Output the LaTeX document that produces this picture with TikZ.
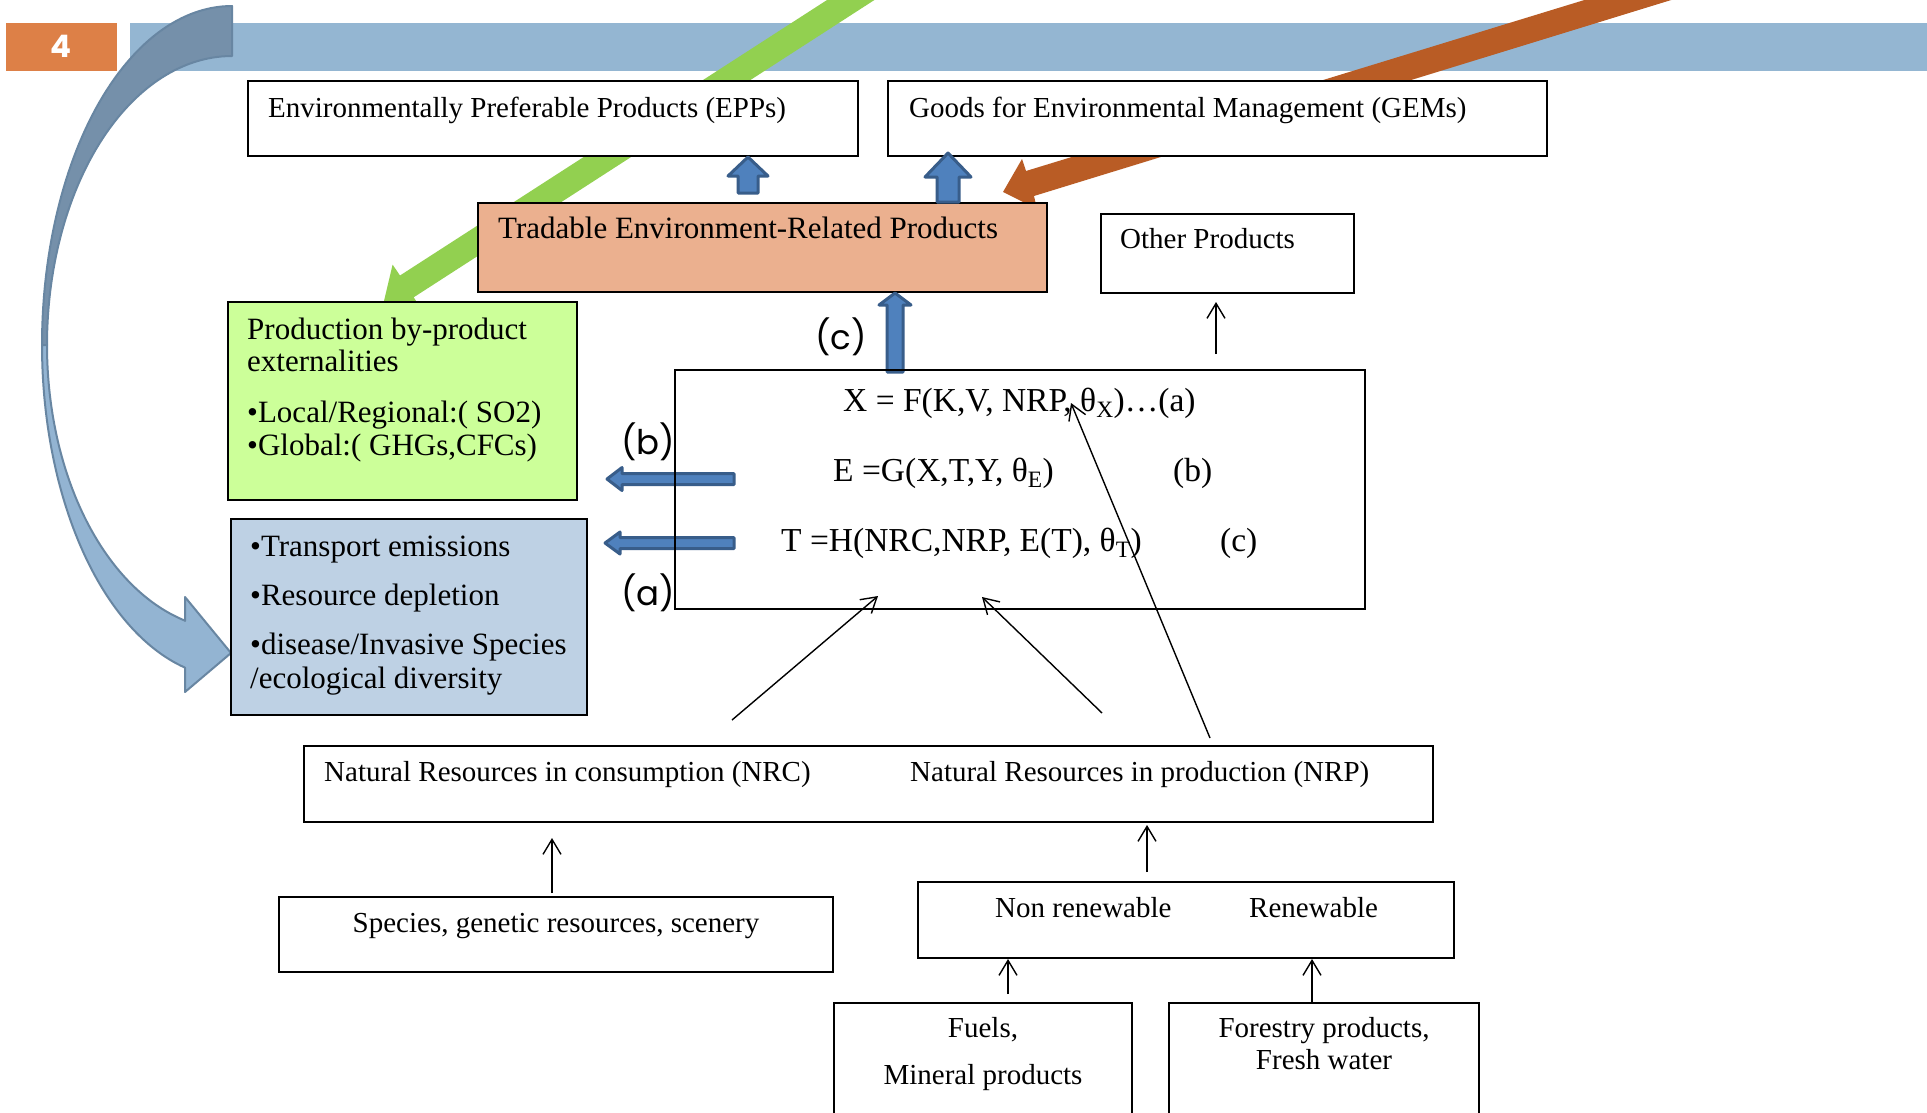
\documentclass[tikz,border=0pt]{standalone}
\usepackage{fontspec}
\setmainfont{Liberation Serif}
\newfontfamily\labfont{Poppins}
\usetikzlibrary{arrows.meta,calc}

\definecolor{barblue}{RGB}{148,182,210}
\definecolor{numorange}{RGB}{221,128,71}
\definecolor{arrdark}{RGB}{117,144,170}
\definecolor{arrlight}{RGB}{147,180,210}
\definecolor{arredge}{RGB}{104,134,162}
\definecolor{grnarrow}{RGB}{146,208,80}
\definecolor{orgarrow}{RGB}{185,92,37}
\definecolor{tradfill}{RGB}{235,176,143}
\definecolor{grnfill}{RGB}{204,255,153}
\definecolor{bluefill}{RGB}{190,209,228}
\definecolor{blkfill}{RGB}{79,129,189}
\definecolor{blkedge}{RGB}{56,93,138}

\tikzset{
 box/.style={draw=black, line width=1.6pt, fill=white, anchor=north west, inner sep=0pt, outer sep=0pt},
 txt/.style={anchor=base west, inner sep=0pt, font=\fontsize{29}{34}\selectfont},
 bigtxt/.style={anchor=base west, inner sep=0pt, font=\fontsize{31}{36}\selectfont},
 ctxt/.style={anchor=base, inner sep=0pt, font=\fontsize{29}{34}\selectfont},
 eqtxt/.style={anchor=base west, inner sep=0pt, font=\fontsize{33.5}{40}\selectfont},
 lab/.style={anchor=center, inner sep=0pt, font=\labfont\fontsize{34}{40}\selectfont},
 conn/.style={line width=1.4pt, -{Straight Barb[length=15pt,width=18pt]}},
 blk/.style={fill=blkfill, draw=blkedge, line width=3pt, line join=round},
}

\newcommand\BlkUp[6]{%
 \draw[blk] (#1-#6,#4) -- (#1-#6,#3) -- (#1-#5,#3) -- (#1,#2) -- (#1+#5,#3) -- (#1+#6,#3) -- (#1+#6,#4) -- cycle;}
\newcommand\BlkLeft[6]{%
 \draw[blk] (#4,#2-#6) -- (#3,#2-#6) -- (#3,#2-#5) -- (#1,#2) -- (#3,#2+#5) -- (#3,#2+#6) -- (#4,#2+#6) -- cycle;}

\begin{document}
\begin{tikzpicture}[x=1pt,y=-1pt]
\useasboundingbox (0,0) rectangle (1927,1112);
\clip (0,0) rectangle (1927,1112);
\fill[white] (0,0) rectangle (1927,1112);

% header
\fill[barblue] (130,23) rectangle (1927,71);
\node[fill=numorange, minimum width=111pt, minimum height=48pt, anchor=north west, inner sep=0pt] (num) at (6,23) {};
\node[text=white, font=\labfont\bfseries\fontsize{31}{34}\selectfont, inner sep=0pt] (numt) at (61,46) {4};

% green arrow
\fill[grnarrow] (965,-89) -- (400,275.5) -- (392.6,264.6) -- (384,301) -- (420.8,308.2) -- (413.7,297.3) -- (979,-67.5) -- cycle;
% orange arrow
\fill[orgarrow] (1764,-55) -- (1026,171) -- (1022,159) -- (1003,192) -- (1037,209) -- (1034,196) -- (1772,-31) -- cycle;

% curved arrow
\draw[fill=arrdark, draw=arredge, line width=2pt, line join=round]
  plot[domain=270:180, samples=60] ({232+190*cos(\x)},{345+339*sin(\x)})
  -- plot[domain=180:270, samples=60] ({232+185*cos(\x)},{345+289*sin(\x)}) -- cycle;
\draw[fill=arrlight, draw=arredge, line width=2pt, line join=round]
  plot[domain=180:104.3, samples=60] ({232+190*cos(\x)},{345+333*sin(\x)})
  -- (185,692) -- (231,653) -- (185,597) -- (185,621)
  -- plot[domain=104.7:180, samples=60] ({232+185*cos(\x)},{345+285*sin(\x)}) -- cycle;

% boxes
\node[box, minimum width=610pt, minimum height=75pt] (epp) at (248,81) {};
\node[box, minimum width=659pt, minimum height=75pt] (gem) at (888,81) {};
\node[box, fill=tradfill, minimum width=569pt, minimum height=89pt] (trad) at (478,203) {};
\node[box, minimum width=253pt, minimum height=79pt] (other) at (1101,214) {};
\node[box, fill=grnfill, minimum width=349pt, minimum height=198pt] (grn) at (228,302) {};
\node[box, fill=bluefill, minimum width=356pt, minimum height=196pt] (blu) at (231,519) {};
\node[box, minimum width=1129pt, minimum height=76pt] (nr) at (304,746) {};
\node[box, minimum width=554pt, minimum height=75pt] (species) at (279,897) {};
\node[box, minimum width=536pt, minimum height=76pt] (nonren) at (918,882) {};
\node[box, minimum width=298pt, minimum height=140pt] (fuels) at (834,1003) {};
\node[box, minimum width=310pt, minimum height=140pt] (forest) at (1169,1003) {};

% block arrows
\BlkUp{748}{157}{176}{193}{20}{10}
\BlkUp{948}{153}{177}{202}{23}{11}
\BlkUp{895}{293}{305}{372}{16}{8}
\BlkLeft{607}{479}{622}{734}{11.5}{5.5}
\BlkLeft{605}{543}{620}{734}{11}{5.5}

% equation box (no fill)
\node[box, fill=none, minimum width=690pt, minimum height=239pt] (eq) at (675,370) {};

% thin connectors
\coordinate (c1s) at (552,893); \coordinate (c1e) at (552,838);
\coordinate (c2s) at (1147,872); \coordinate (c2e) at (1147,825);
\coordinate (c3s) at (1008,994); \coordinate (c3e) at (1008,959);
\coordinate (c4e) at (1312,959);
\coordinate (c5s) at (1216,354); \coordinate (c5e) at (1216,302);
\coordinate (d1s) at (732,720); \coordinate (d1e) at (878,596);
\coordinate (d2s) at (1102,713); \coordinate (d2e) at (982,597);
\coordinate (d3s) at (1210,738); \coordinate (d3e) at (1071,403);
\draw[conn] (c1s) -- (c1e);
\draw[conn] (c2s) -- (c2e);
\draw[conn] (c3s) -- (c3e);
\draw[conn] (forest.north -| c4e) -- (c4e);
\draw[conn] (c5s) -- (c5e);
\draw[conn] (d1s) -- (d1e);
\draw[conn] (d2s) -- (d2e);
\draw[conn] (d3s) -- (d3e);

% texts
\node[txt] (eppt) at (268,117) {Environmentally Preferable Products (EPPs)};
\node[txt] (gemt) at (909,117) {Goods for Environmental Management (GEMs)};
\node[bigtxt] (tradt) at (498,238) {Tradable Environment-Related Products};
\node[txt] (otht) at (1120,248) {Other Products};
\node[bigtxt] (g1) at (247,339) {Production by-product};
\node[bigtxt] (g2) at (247,371) {externalities};
\node[bigtxt] (g3) at (247,422) {•Local/Regional:( SO2)};
\node[bigtxt] (g4) at (247,455) {•Global:( GHGs,CFCs)};
\node[bigtxt] (b1) at (250,556) {•Transport emissions};
\node[bigtxt] (b2) at (250,605) {•Resource depletion};
\node[bigtxt] (b3) at (250,654) {•disease/Invasive Species};
\node[bigtxt] (b4) at (250,688) {/ecological diversity};
\node[eqtxt] (e1) at (843,411) {X = F(K,V, NRP, θ\textsubscript{X})…(a)};
\node[eqtxt] (e2) at (833,481) {E =G(X,T,Y, θ\textsubscript{E})};
\node[eqtxt] (e2l) at (1173,481) {(b)};
\node[eqtxt] (e3) at (781,551) {T =H(NRC,NRP, E(T), θ\textsubscript{T})};
\node[eqtxt] (e3l) at (1220,551) {(c)};
\node[txt] (nrc) at (324,781) {Natural Resources in consumption (NRC)};
\node[txt] (nrp) at (910,781) {Natural Resources in production (NRP)};
\node[ctxt] (spt) at (556,932) {Species, genetic resources, scenery};
\node[txt] (nrt) at (995,917) {Non renewable};
\node[txt] (rt) at (1249,917) {Renewable};
\node[ctxt] (f1) at (983,1037) {Fuels,};
\node[ctxt] (f2) at (983,1084) {Mineral products};
\node[ctxt] (fo1) at (1324,1037) {Forestry products,};
\node[ctxt] (fo2) at (1324,1069) {Fresh water};

% sans labels
\node[lab] (lb) at (648,442) {(b)};
\node[lab] (la) at (648,593) {(a)};
\node[lab] (lc) at (841,337) {(c)};
\end{tikzpicture}
\end{document}
